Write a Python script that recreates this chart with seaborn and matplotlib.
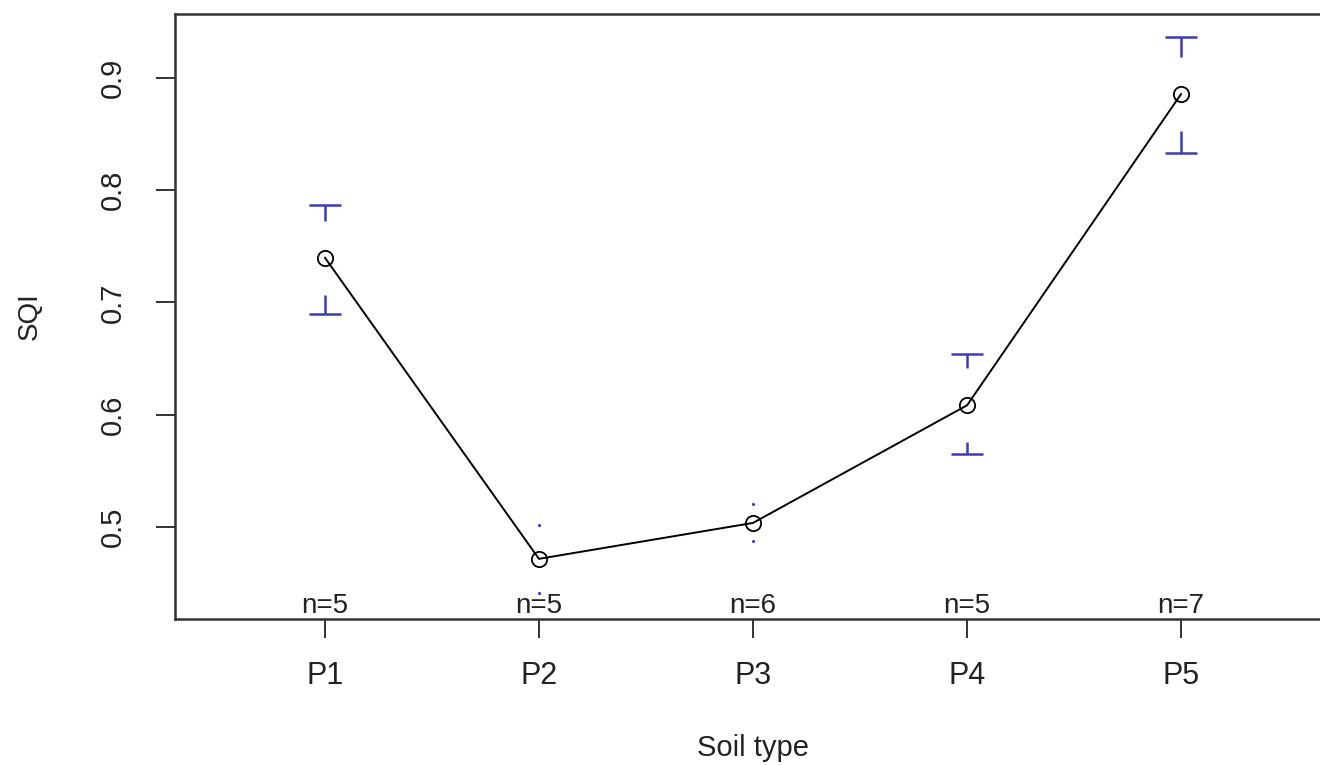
import numpy as np
import pandas as pd
import matplotlib
matplotlib.use("Agg")
import matplotlib.pyplot as plt
import seaborn as sns

soil_types = ["P1", "P2", "P3", "P4", "P5"]
sqi_mean = [0.740, 0.4716, 0.5036, 0.6084, 0.8858]
ci_upper = [0.787, 0.5018, 0.5204, 0.6538, 0.9364]
ci_lower = [0.690, 0.4414, 0.4879, 0.5649, 0.8333]
n_obs = [5, 5, 6, 5, 7]
y_ticks = [0.5, 0.6, 0.7, 0.8, 0.9]

sns.set_style("white")
plt.rcParams['font.family'] = ['Liberation Sans', 'DejaVu Sans']

fig = plt.figure(figsize=(13.2, 7.65), dpi=100)
ax = fig.add_axes([175/1320, 1-619/765, (1331-175)/1320, (619-14)/765])

pos = np.arange(1, len(soil_types) + 1)
df = pd.DataFrame({"pos": pos, "SQI": sqi_mean})

blue = "#3c3cb4"
gap = 0.033
cap_half = 0.075
for x, m, lo, hi in zip(pos, sqi_mean, ci_lower, ci_upper):
    for b, end in ((hi, m + gap), (lo, m - gap)):
        if abs(b - m) > gap:
            ax.vlines(x, b, end, color=blue, lw=1.8)
            ax.hlines(b, x - cap_half, x + cap_half, color=blue, lw=1.8)
        else:
            ax.plot([x], [b], marker='.', ms=2.5, color=blue, ls='none')

sns.lineplot(data=df, x="pos", y="SQI", ax=ax, color="black", lw=1.4,
             marker="o", markersize=11, markerfacecolor="none",
             markeredgecolor="black", markeredgewidth=1.3)

ax.set_xlim(0.3, 5.7)
ax.set_ylim(0.418, 0.957)
ax.set_xticks(pos)
ax.set_xticklabels(soil_types)
ax.set_yticks(y_ticks)
ax.set_yticklabels([f"{v:.1f}" for v in y_ticks], rotation=90, va='center')
ax.tick_params(axis='both', direction='out', length=14, width=1.4, color='#333333',
               labelcolor='#222222', bottom=True, left=True)
ax.tick_params(axis='x', pad=16, labelsize=22)
ax.tick_params(axis='y', pad=21, labelsize=21)

for sp in ax.spines.values():
    sp.set_color('#333333')
    sp.set_linewidth(1.8)

for x, n in zip(pos, n_obs):
    ax.annotate(f"n={n}", xy=(x, 0), xycoords=('data', 'axes fraction'),
                xytext=(0, 4.5), textcoords='offset points', ha='center', va='baseline',
                fontsize=20, color='#222222')

ax.set_xlabel("Soil type", fontsize=21, color='#222222', labelpad=31)
ax.set_ylabel("SQI", fontsize=20, color='#222222', labelpad=40)

fig.savefig("out.png", dpi=100)
